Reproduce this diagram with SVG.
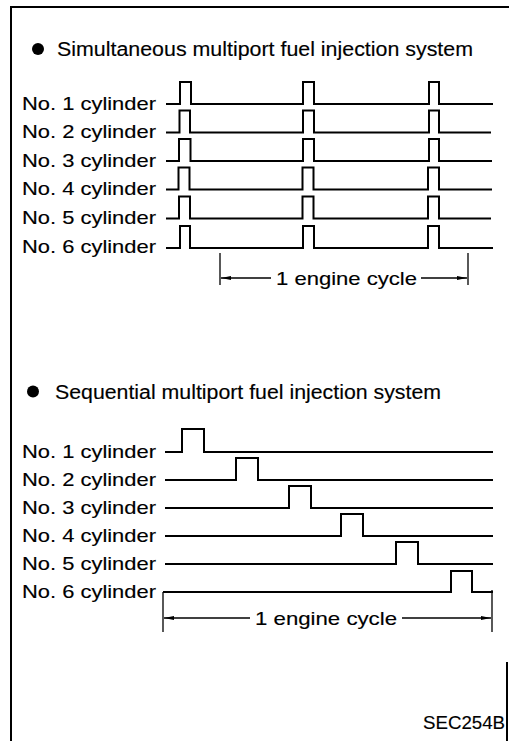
<svg xmlns="http://www.w3.org/2000/svg" width="509" height="741" viewBox="0 0 509 741">
<style>
text{font-family:"Liberation Sans",Arial,Helvetica,sans-serif;fill:#000;stroke:#000;stroke-width:0.15}
.t{font-size:20px}
.l{font-size:19px}
.w{fill:none;stroke:#000;stroke-width:2;stroke-linejoin:miter}
.b{fill:none;stroke:#000;stroke-width:2}
.d{fill:none;stroke:#000;stroke-width:1.3}
</style>
<defs>
<marker id="ah" markerWidth="10" markerHeight="6" refX="10" refY="3" orient="auto" markerUnits="userSpaceOnUse">
<path d="M0,1 L10,3 L0,5 Z" fill="#000"/>
</marker>
</defs>
<g id="frame">
<path class="b" d="M509,7 H11 V741"/>
<path class="b" d="M507,662 V741"/>
</g>
<g id="simultaneous">
<circle cx="38" cy="49" r="6" fill="#000"/>
<text class="t" x="57" y="56" textLength="416" lengthAdjust="spacingAndGlyphs">Simultaneous multiport fuel injection system</text>
<g id="s1"><text class="l" x="22" y="109.5" textLength="134" lengthAdjust="spacingAndGlyphs">No. 1 cylinder</text>
<polyline class="w" points="166,104 180,104 180,82 191,82 191,104 303,104 303,82 314,82 314,104 429,104 429,82 439,82 439,104 493,104"/></g>
<g id="s2"><text class="l" x="22" y="138" textLength="134" lengthAdjust="spacingAndGlyphs">No. 2 cylinder</text>
<polyline class="w" points="166,132.5 179.5,132.5 179.5,110.5 190,110.5 190,132.5 303,132.5 303,110.5 314,110.5 314,132.5 429,132.5 429,110.5 439,110.5 439,132.5 491,132.5"/></g>
<g id="s3"><text class="l" x="22" y="166.5" textLength="134" lengthAdjust="spacingAndGlyphs">No. 3 cylinder</text>
<polyline class="w" points="166,161 179,161 179,139 190.5,139 190.5,161 303,161 303,139 314,139 314,161 429,161 429,139 439,139 439,161 492,161"/></g>
<g id="s4"><text class="l" x="22" y="195" textLength="134" lengthAdjust="spacingAndGlyphs">No. 4 cylinder</text>
<polyline class="w" points="166,189.5 178.5,189.5 178.5,167.5 189.5,167.5 189.5,189.5 302.5,189.5 302.5,167.5 313.5,167.5 313.5,189.5 428,189.5 428,167.5 439,167.5 439,189.5 492,189.5"/></g>
<g id="s5"><text class="l" x="22" y="224" textLength="134" lengthAdjust="spacingAndGlyphs">No. 5 cylinder</text>
<polyline class="w" points="166,218.5 179,218.5 179,196.5 190,196.5 190,218.5 302.5,218.5 302.5,196.5 313.5,196.5 313.5,218.5 428,218.5 428,196.5 439,196.5 439,218.5 491,218.5"/></g>
<g id="s6"><text class="l" x="22" y="253" textLength="134" lengthAdjust="spacingAndGlyphs">No. 6 cylinder</text>
<polyline class="w" points="166,248 180,248 180,226 190,226 190,248 303,248 303,226 314,226 314,248 428,248 428,226 439,226 439,248 493,248"/></g>
<g id="cycle1">
<path class="d" d="M220,253 V285 M468,253 V285"/>
<text class="l" x="276" y="285" textLength="141" lengthAdjust="spacingAndGlyphs">1 engine cycle</text>
</g>
</g>
<g id="sequential">
<circle cx="33" cy="391.5" r="6" fill="#000"/>
<text class="t" x="55" y="399" textLength="386" lengthAdjust="spacingAndGlyphs">Sequential multiport fuel injection system</text>
<g id="q1"><text class="l" x="22" y="458" textLength="134" lengthAdjust="spacingAndGlyphs">No. 1 cylinder</text>
<polyline class="w" points="165,452 182,452 182,429 204,429 204,452 493,452"/></g>
<g id="q2"><text class="l" x="22" y="486" textLength="134" lengthAdjust="spacingAndGlyphs">No. 2 cylinder</text>
<polyline class="w" points="165,480 236,480 236,458 258,458 258,480 493,480"/></g>
<g id="q3"><text class="l" x="22" y="514" textLength="134" lengthAdjust="spacingAndGlyphs">No. 3 cylinder</text>
<polyline class="w" points="165,508 289,508 289,486 311,486 311,508 493,508"/></g>
<g id="q4"><text class="l" x="22" y="542" textLength="134" lengthAdjust="spacingAndGlyphs">No. 4 cylinder</text>
<polyline class="w" points="165,536 341,536 341,514 363,514 363,536 493,536"/></g>
<g id="q5"><text class="l" x="22" y="570" textLength="134" lengthAdjust="spacingAndGlyphs">No. 5 cylinder</text>
<polyline class="w" points="165,564 396,564 396,542 418,542 418,564 493,564"/></g>
<g id="q6"><text class="l" x="22" y="598" textLength="134" lengthAdjust="spacingAndGlyphs">No. 6 cylinder</text>
<polyline class="w" points="163,592 451,592 451,571 472,571 472,592 493,592"/></g>
<g id="cycle2">
<path class="d" d="M163,592 V632 M492,590 V632"/>
<text class="l" x="255" y="625" textLength="142" lengthAdjust="spacingAndGlyphs">1 engine cycle</text>
</g>
</g>
<g id="connectors">
<line class="d" x1="271" y1="278" x2="221" y2="278" marker-end="url(#ah)"/>
<line class="d" x1="421" y1="278" x2="467" y2="278" marker-end="url(#ah)"/>
<line class="d" x1="250" y1="618" x2="164" y2="618" marker-end="url(#ah)"/>
<line class="d" x1="402" y1="618" x2="491" y2="618" marker-end="url(#ah)"/>
</g>
<text x="423" y="729" font-size="18" textLength="82" lengthAdjust="spacingAndGlyphs">SEC254B</text>
</svg>
